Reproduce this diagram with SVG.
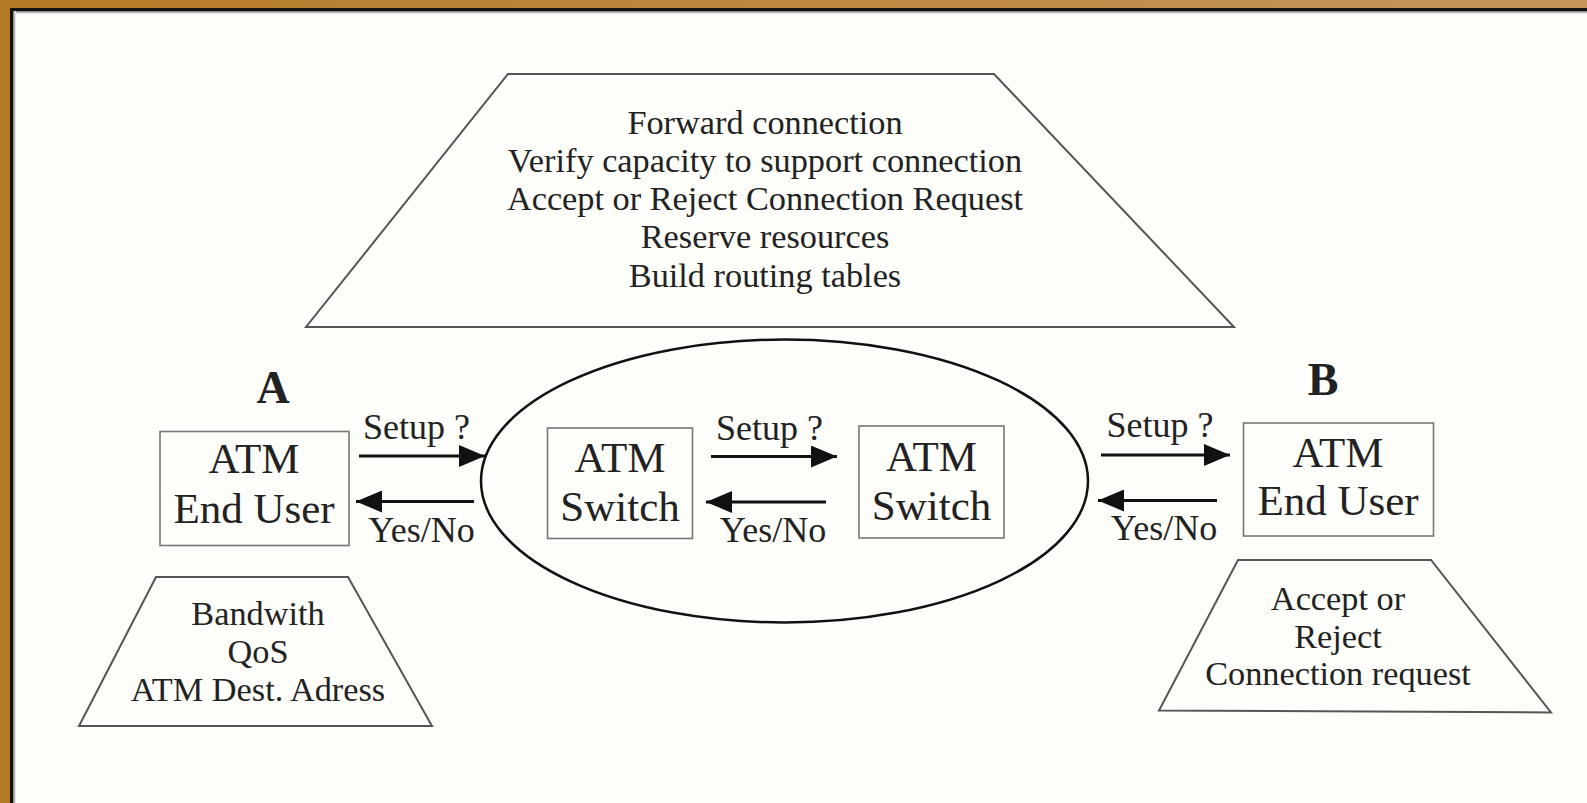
<svg xmlns="http://www.w3.org/2000/svg" width="1587" height="803" viewBox="0 0 1587 803">
  <defs>
    <linearGradient id="frameBrown" x1="0" y1="0" x2="1" y2="0">
      <stop offset="0" stop-color="#b47a26"/>
      <stop offset="1" stop-color="#c4965c"/>
    </linearGradient>
    <linearGradient id="shadeTop" x1="0" y1="0" x2="0" y2="1">
      <stop offset="0" stop-color="#777"/>
      <stop offset="1" stop-color="#fdfdf9"/>
    </linearGradient>
    <linearGradient id="shadeLeft" x1="0" y1="0" x2="1" y2="0">
      <stop offset="0" stop-color="#777"/>
      <stop offset="1" stop-color="#fdfdf9"/>
    </linearGradient>
    <marker id="head" markerUnits="userSpaceOnUse" markerWidth="26" markerHeight="22" refX="26" refY="11" orient="auto">
      <path d="M0,0 L26,11 L0,22 Z" fill="#111"/>
    </marker>
    <style>
      .serif { font-family: "Liberation Serif", "Times New Roman", serif; fill: #222; text-anchor: middle; }
      .trap { fill: none; stroke: #555; stroke-width: 2; stroke-linejoin: miter; }
      .box { fill: none; stroke: #777; stroke-width: 1.6; }
      .big { font-size: 43px; }
      .lbl { font-size: 36px; }
      .note { font-size: 34.3px; }
      .site { font-size: 46px; font-weight: bold; }
      .arrow { stroke: #111; stroke-width: 3; fill: none; marker-end: url(#head); }
    </style>
  </defs>

  <!-- page and frame -->
  <rect x="0" y="0" width="1587" height="803" fill="#fdfdf9"/>
  <rect x="0" y="0" width="1587" height="8" fill="url(#frameBrown)"/>
  <rect x="0" y="0" width="10" height="803" fill="#b47a26"/>
  <rect x="10" y="8" width="1577" height="3" fill="#111"/>
  <rect x="10" y="8" width="3" height="795" fill="#111"/>
  <rect x="13" y="11" width="1574" height="3" fill="url(#shadeTop)"/>
  <rect x="13" y="11" width="3" height="792" fill="url(#shadeLeft)"/>

  <!-- network cloud -->
  <g id="network">
    <ellipse cx="784.5" cy="481" rx="303.5" ry="141.5" fill="none" stroke="#111" stroke-width="2.5"/>
  </g>

  <!-- switching tasks -->
  <g id="switch-tasks">
    <polygon class="trap" points="508,74 994,74 1234,327 306,327"/>
    <text class="serif note" x="765" y="133.5">Forward connection</text>
    <text class="serif note" x="765" y="171.8">Verify capacity to support connection</text>
    <text class="serif note" x="765" y="210.1">Accept or Reject Connection Request</text>
    <text class="serif note" x="765" y="248.4">Reserve resources</text>
    <text class="serif note" x="765" y="286.7">Build routing tables</text>
  </g>

  <!-- end user A -->
  <g id="user-a">
    <text class="serif site" x="273" y="402.5">A</text>
    <rect class="box" x="160" y="431.5" width="189" height="114"/>
    <text class="serif big" x="254" y="473.3">ATM</text>
    <text class="serif big" x="254" y="523.3">End User</text>
  </g>

  <g id="request-a">
    <polygon class="trap" points="156,577 348,577 432,726 79,726"/>
    <text class="serif note" x="258" y="625">Bandwith</text>
    <text class="serif note" x="258" y="663">QoS</text>
    <text class="serif note" x="258" y="701">ATM Dest. Adress</text>
  </g>

  <!-- switches -->
  <g id="switch-1">
    <rect class="box" x="547.5" y="428" width="145" height="110.5"/>
    <text class="serif big" x="620" y="471.7">ATM</text>
    <text class="serif big" x="620" y="520.7">Switch</text>
  </g>

  <g id="switch-2">
    <rect class="box" x="859" y="426" width="145" height="112"/>
    <text class="serif big" x="931.5" y="470.5">ATM</text>
    <text class="serif big" x="931.5" y="519.5">Switch</text>
  </g>

  <!-- end user B -->
  <g id="user-b">
    <text class="serif site" x="1323" y="395">B</text>
    <rect class="box" x="1243.5" y="423" width="190" height="113"/>
    <text class="serif big" x="1338" y="466.7">ATM</text>
    <text class="serif big" x="1338" y="514.5">End User</text>
  </g>

  <g id="answer-b">
    <polygon class="trap" points="1238,560 1431,560 1551,712.5 1159,710.5"/>
    <text class="serif note" x="1338" y="610">Accept or</text>
    <text class="serif note" x="1338" y="647.5">Reject</text>
    <text class="serif note" x="1338" y="685">Connection request</text>
  </g>

  <!-- signalling messages -->
  <g id="connectors">
    <line class="arrow" x1="359" y1="456" x2="485" y2="456"/>
    <line class="arrow" x1="474" y1="501.5" x2="356" y2="501.5"/>
    <line class="arrow" x1="711" y1="456.5" x2="837" y2="456.5"/>
    <line class="arrow" x1="826" y1="502" x2="706" y2="502"/>
    <line class="arrow" x1="1101" y1="455" x2="1230" y2="455"/>
    <line class="arrow" x1="1217" y1="500.5" x2="1098" y2="500.5"/>

    <text class="serif lbl" x="416.5" y="439.3">Setup ?</text>
    <text class="serif lbl" x="421.5" y="541.7">Yes/No</text>
    <text class="serif lbl" x="769.5" y="440">Setup ?</text>
    <text class="serif lbl" x="773" y="541.7">Yes/No</text>
    <text class="serif lbl" x="1160" y="437.3">Setup ?</text>
    <text class="serif lbl" x="1164" y="540">Yes/No</text>
  </g>
</svg>
